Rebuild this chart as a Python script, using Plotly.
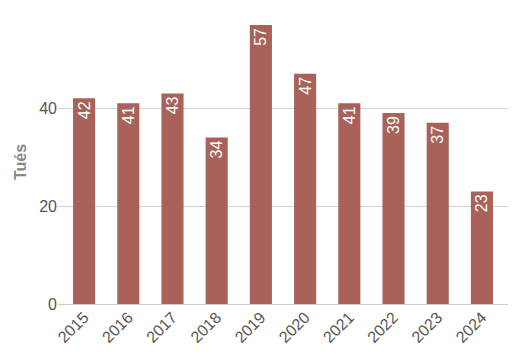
import plotly.graph_objects as go

years = ["2015", "2016", "2017", "2018", "2019", "2020", "2021", "2022", "2023", "2024"]
tues = [42, 41, 43, 34, 57, 47, 41, 39, 37, 23]
y_ticks = [0, 20, 40]

fig = go.Figure(go.Bar(
    x=years, y=tues,
    marker=dict(color="#a8625a", line=dict(width=0)),
    width=0.5,
    text=[str(v) for v in tues],
    textposition="inside",
    insidetextanchor="end",
    textangle=-90,
    constraintext="none",
    cliponaxis=False,
    textfont=dict(color="white", size=16, family="Liberation Sans, Arial, sans-serif"),
    hoverinfo="skip",
))

fig.update_layout(
    width=528, height=363,
    margin=dict(l=58, r=20, t=20, b=59),
    paper_bgcolor="white", plot_bgcolor="white",
    font=dict(family="Liberation Sans, Arial, sans-serif", color="#555"),
    showlegend=False,
    uniformtext=dict(minsize=16, mode="show"),
    xaxis=dict(
        type="category", range=[-0.59, 9.59],
        tickangle=-45, tickfont=dict(size=16, color="#555"),
        showgrid=False, showline=False, ticks="",
    ),
    yaxis=dict(
        range=[0, 58], tickvals=y_ticks,
        tickfont=dict(size=16, color="#555"),
        showgrid=True, gridcolor="rgba(200,200,200,0.8)", gridwidth=1,
        zeroline=True, zerolinecolor="rgba(200,200,200,0.9)", zerolinewidth=1,
        showline=False, ticks="", layer="above traces",
        title=dict(text="<b>Tués</b>", font=dict(size=16, color="#888"), standoff=8),
    ),
)

fig.write_html("out.html")
